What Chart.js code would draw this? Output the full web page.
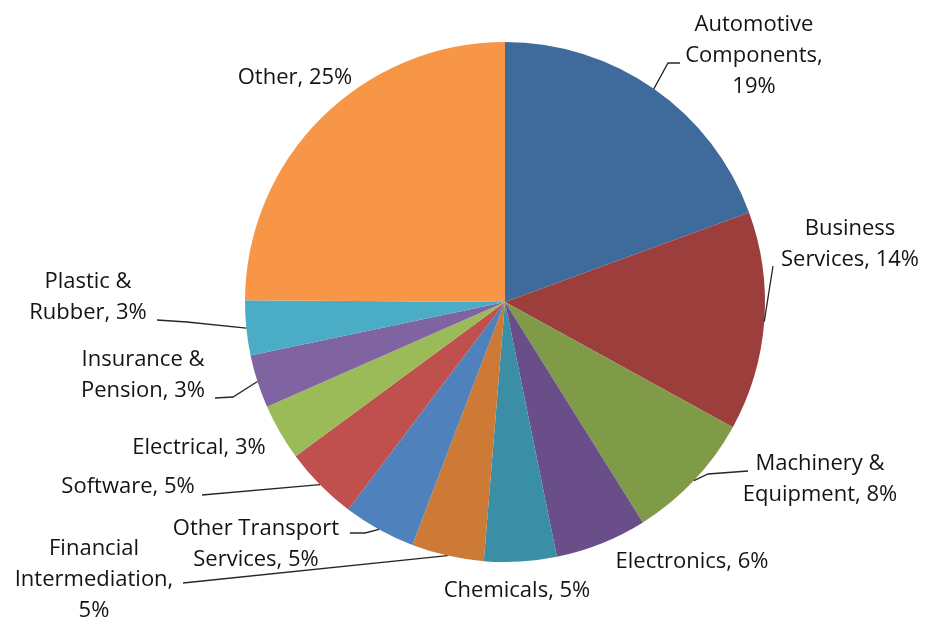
<!DOCTYPE html>
<html>
<head>
<meta charset="utf-8">
<script src="https://cdn.jsdelivr.net/npm/chart.js@4/dist/chart.umd.min.js"></script>
<style>
  html, body { margin: 0; padding: 0; background: #fff; }
  canvas { display: block; }
</style>
</head>
<body>
<canvas id="chart-pie" width="930" height="621"></canvas>
<script>
// categories, clockwise from 12 o'clock
var categories = [
  "Automotive Components", "Business Services", "Machinery & Equipment",
  "Electronics", "Chemicals", "Financial Intermediation",
  "Other Transport Services", "Software", "Electrical",
  "Insurance & Pension", "Plastic & Rubber", "Other"
];
// share of total, %
var shares = [19.4, 13.6, 8.1, 5.7, 4.5, 4.5, 4.5, 4.6, 3.5, 3.3, 3.4, 24.9];
// label text as printed on the chart
var pctLabels = ["19%", "14%", "8%", "6%", "5%", "5%", "5%", "5%", "3%", "3%", "3%", "25%"];
var sliceColors = [
  "#3f6b9c", "#9c3f3c", "#7f9b48", "#6a4e89", "#3a8ea5", "#cc7a36",
  "#4f81bd", "#c0504d", "#9bbb59", "#8064a2", "#4bacc6", "#f79646"
];

// label layout: wrapped lines, centre x, first baseline, leader bend points
var labelLayout = [
  { lines: ["Automotive", "Components,", "19%"], x: 754, y: 31, leader: [[668, 63], [680, 63]] },
  { lines: ["Business", "Services, 14%"], x: 850, y: 235, leader: [[773, 266]] },
  { lines: ["Machinery &", "Equipment, 8%"], x: 820, y: 470, leader: [[708, 474], [748, 471]] },
  { lines: ["Electronics, 6%"], x: 692, y: 568, leader: null },
  { lines: ["Chemicals, 5%"], x: 517, y: 597, leader: null },
  { lines: ["Financial", "Intermediation,", "5%"], x: 94, y: 555, leader: [[183, 583]] },
  { lines: ["Other Transport", "Services, 5%"], x: 256, y: 535, leader: [[365, 533], [350, 533]] },
  { lines: ["Software, 5%"], x: 128, y: 493, leader: [[202, 495]] },
  { lines: ["Electrical, 3%"], x: 199, y: 454, leader: null },
  { lines: ["Insurance &", "Pension, 3%"], x: 143, y: 366, leader: [[233, 397], [215, 398]] },
  { lines: ["Plastic &", "Rubber, 3%"], x: 88, y: 288, leader: [[187, 322], [157, 320]] },
  { lines: ["Other, 25%"], x: 295, y: 84, leader: null }
];

var excelLabels = {
  id: "excelLabels",
  afterDraw: function (chart) {
    var ctx = chart.ctx;
    var arcs = chart.getDatasetMeta(0).data;
    ctx.save();
    // leader lines start at the middle of each slice's outer edge
    ctx.strokeStyle = "#262626";
    ctx.lineWidth = 1.3;
    arcs.forEach(function (arc, i) {
      var lay = labelLayout[i];
      if (!lay.leader) return;
      var p = arc.getProps(["x", "y", "startAngle", "endAngle", "outerRadius"], true);
      var mid = (p.startAngle + p.endAngle) / 2;
      ctx.beginPath();
      ctx.moveTo(p.x + Math.cos(mid) * p.outerRadius, p.y + Math.sin(mid) * p.outerRadius);
      lay.leader.forEach(function (pt) { ctx.lineTo(pt[0], pt[1]); });
      ctx.stroke();
    });
    ctx.fillStyle = "#141414";
    ctx.font = "22px 'Open Sans'";
    ctx.textAlign = "center";
    ctx.textBaseline = "alphabetic";
    labelLayout.forEach(function (lay) {
      lay.lines.forEach(function (line, k) {
        ctx.fillText(line, lay.x, lay.y + k * 31);
      });
    });
    ctx.restore();
  }
};

var ctx1 = document.getElementById("chart-pie").getContext("2d");
new Chart(ctx1, {
  type: "pie",
  data: {
    labels: categories,
    datasets: [
      {
        data: shares,
        backgroundColor: sliceColors,
        borderWidth: 0,
      },
    ],
  },
  options: {
    responsive: false,
    animation: false,
    layout: {
      padding: { left: 245, right: 165, top: 42, bottom: 59 },
    },
    plugins: {
      legend: { display: false },
      tooltip: { enabled: false },
    },
  },
  plugins: [excelLabels],
});
</script>
</body>
</html>
